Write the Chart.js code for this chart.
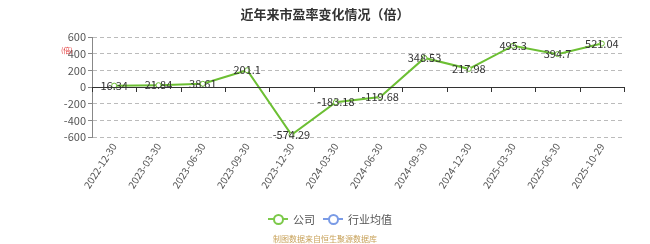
<!DOCTYPE html>
<html>
<head>
<meta charset="utf-8">
<script src="https://cdn.jsdelivr.net/npm/chart.js@4/dist/chart.umd.min.js"></script>
<style>
  body { margin: 0; background: #fff; font-family: "Noto Sans CJK SC", "Noto Sans", sans-serif; }
  #wrap { position: relative; width: 650px; height: 244px; }
  #title { position: absolute; top: 4px; left: 0; width: 650px; text-align: center; font-size: 13px; font-weight: bold; color: #333; }
  #unit { position: absolute; left: 61px; top: 45px; font-size: 7px; color: #e23b3b; }
  #legend { position: absolute; top: 211px; left: 268px; font-size: 11px; color: #555; display: flex; align-items: center; }
  .sym { display: inline-block; width: 20px; height: 12px; position: relative; margin-right: 5px; }
  .sym i { position: absolute; left: 0; right: 0; top: 5px; height: 2px; }
  .sym b { position: absolute; left: 5px; top: 1px; width: 7px; height: 7px; border-radius: 50%; background: #fff; border: 2px solid; }
  #foot { position: absolute; top: 233px; left: 0; width: 650px; text-align: center; font-size: 8px; color: #c8a25a; }
  canvas { position: absolute; left: 0; top: 0; }
</style>
</head>
<body>
<div id="wrap">
  <canvas id="c" width="650" height="244"></canvas>
  <div id="title">近年来市盈率变化情况（倍）</div>
  <div id="unit">(倍)</div>
  <div id="legend">
    <span class="sym"><i style="background:#7cc94a"></i><b style="border-color:#7cc94a"></b></span><span style="margin-right:8px">公司</span>
    <span class="sym"><i style="background:#7a9be6"></i><b style="border-color:#7a9be6"></b></span><span>行业均值</span>
  </div>
  <div id="foot">制图数据来自恒生聚源数据库</div>
</div>
<script>
// dates w el valeurs mte3 el PE
const dates = ['2022-12-30', '2023-03-30', '2023-06-30', '2023-09-30', '2023-12-30', '2024-03-30',
               '2024-06-30', '2024-09-30', '2024-12-30', '2025-03-30', '2025-06-30', '2025-10-29'];
const companyPE = [16.34, 21.84, 38.61, 201.1, -574.29, -183.18, -119.68, 348.53, 217.98, 495.3, 394.7, 521.04];
const industryPE = [];
const yTicks = [600, 400, 200, 0, -200, -400, -600];

// el labels 3al points + el zero line bel ticks
const extras = {
  id: 'extras',
  afterDatasetsDraw(chart) {
    const ctx = chart.ctx;
    const y = chart.scales.y;
    const y0 = y.getPixelForValue(0);
    ctx.save();
    ctx.strokeStyle = '#333';
    ctx.lineWidth = 1;
    ctx.beginPath();
    ctx.moveTo(chart.chartArea.left, Math.round(y0) + 0.5);
    ctx.lineTo(chart.chartArea.right, Math.round(y0) + 0.5);
    for (let i = 0; i <= dates.length; i++) {
      const px = Math.round(chart.chartArea.left + i * (chart.chartArea.right - chart.chartArea.left) / dates.length) + 0.5;
      ctx.moveTo(px, y0);
      ctx.lineTo(px, y0 + 5);
    }
    ctx.stroke();
    ctx.font = '11px "Noto Sans CJK SC", sans-serif';
    ctx.fillStyle = '#333';
    ctx.textAlign = 'center';
    ctx.textBaseline = 'middle';
    const meta = chart.getDatasetMeta(0);
    meta.data.forEach((pt, i) => {
      ctx.fillText(String(companyPE[i]), pt.x, pt.y);
    });
    ctx.restore();
  }
};

new Chart(document.getElementById('c'), {
  type: 'line',
  data: {
    labels: dates,
    datasets: [
      {
        label: '公司',
        data: companyPE,
        borderColor: '#6cbf33',
        backgroundColor: '#fff',
        borderWidth: 2,
        pointRadius: 2.5,
        pointBorderWidth: 1,
        tension: 0
      },
      {
        label: '行业均值',
        data: industryPE,
        borderColor: '#6f8fe6',
        backgroundColor: '#fff'
      }
    ]
  },
  plugins: [extras],
  options: {
    responsive: false,
    animation: false,
    layout: { padding: { top: 37, right: 26, left: 0, bottom: 0 } },
    plugins: { legend: { display: false }, title: { display: false }, tooltip: { enabled: false } },
    scales: {
      x: {
        offset: true,
        grid: { display: false, drawTicks: false },
        border: { display: false },
        ticks: {
          minRotation: 57, maxRotation: 57, autoSkip: false,
          color: '#555', font: { size: 10, family: '"Noto Sans CJK SC", sans-serif' }, padding: 4
        },
        afterFit(s) { s.height = 107; }
      },
      y: {
        min: -600, max: 600,
        afterBuildTicks(s) { s.ticks = yTicks.map(v => ({ value: v })); },
        grid: {
          color: ctx => ctx.tick && ctx.tick.value === 0 ? 'rgba(0,0,0,0)' : '#bbb',
          tickColor: '#888',
          tickLength: 4
        },
        border: { display: true, color: '#888', dash: [4, 3] },
        ticks: { color: '#555', font: { size: 11, family: '"Noto Sans CJK SC", sans-serif' }, padding: 2 },
        afterFit(s) { s.width = 92; }
      }
    }
  }
});
</script>
</body>
</html>
